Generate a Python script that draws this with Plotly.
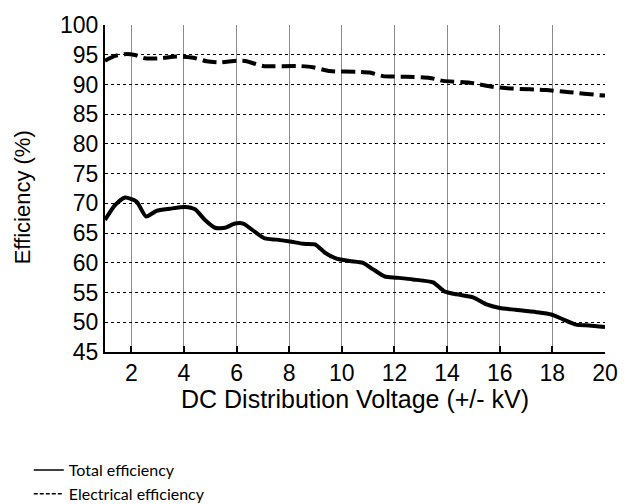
import plotly.graph_objects as go

# Data
total_x = [1.0, 1.38, 1.76, 2.2, 2.56, 2.96, 3.47, 4.04, 4.42, 4.8, 5.18, 5.56, 5.94, 6.25,
           6.7, 7.08, 7.52, 8.03, 8.53, 8.98, 9.36, 9.8, 10.3, 10.8, 11.19, 11.63, 12.08,
           12.7, 13.47, 13.9, 14.36, 14.99, 15.5, 16.0, 16.6, 17.4, 17.96, 18.4, 18.9, 19.4, 20.0]
total_y = [67.2, 69.7, 71.0, 70.3, 67.8, 68.75, 69.1, 69.4, 69.0, 67.2, 65.9, 65.9, 66.6, 66.6,
           65.2, 64.1, 63.9, 63.6, 63.2, 63.1, 61.7, 60.7, 60.3, 60.0, 58.9, 57.7, 57.5,
           57.2, 56.7, 55.2, 54.7, 54.2, 53.0, 52.4, 52.1, 51.7, 51.3, 50.5, 49.6, 49.45, 49.2]

elec_x = [1.0, 1.38, 1.76, 2.14, 2.52, 3.09, 3.72, 4.35, 4.86, 5.37, 6.0, 6.38, 7.01, 8.4,
          8.9, 9.55, 10.56, 11.06, 11.57, 12.46, 13.34, 13.85, 14.86, 15.75, 16.5, 17.77,
          18.66, 19.8, 20.0]
elec_y = [94.0, 94.8, 95.1, 94.95, 94.4, 94.4, 94.7, 94.5, 93.9, 93.7, 94.0, 93.9, 93.1, 93.1,
          92.9, 92.25, 92.15, 92.0, 91.4, 91.3, 91.1, 90.6, 90.3, 89.6, 89.3, 89.05,
          88.7, 88.2, 88.15]

x_ticks = [2, 4, 6, 8, 10, 12, 14, 16, 18, 20]
y_ticks = [45, 50, 55, 60, 65, 70, 75, 80, 85, 90, 95, 100]

series_names = ["Total efficiency", "Electrical efficiency"]
x_title = "DC Distribution Voltage (+/- kV)"
y_title = "Efficiency (%)"

fig = go.Figure()

fig.add_trace(go.Scatter(x=total_x, y=total_y, mode="lines", showlegend=False,
                         line=dict(color="black", width=4, shape="spline", smoothing=0.6)))
fig.add_trace(go.Scatter(x=elec_x, y=elec_y, mode="lines", showlegend=False,
                         line=dict(color="black", width=4, dash="14px,6px",
                                   shape="spline", smoothing=0.6)))

# legend entries (thin line samples as in the reference)
fig.add_trace(go.Scatter(x=[None], y=[None], mode="lines", name=series_names[0],
                         line=dict(color="black", width=1.5)))
fig.add_trace(go.Scatter(x=[None], y=[None], mode="lines", name=series_names[1],
                         line=dict(color="black", width=1.5, dash="4px,2px")))

fig.update_layout(
    width=630, height=504,
    margin=dict(l=97, r=33, t=17, b=160, autoexpand=False),
    paper_bgcolor="white", plot_bgcolor="white",
    font=dict(family="Liberation Sans, Arial", color="black"),
    legend=dict(xref="container", yref="container", x=0.033, y=0.117,
                xanchor="left", yanchor="top",
                font=dict(family="Lato", size=16, color="black"),
                bgcolor="rgba(0,0,0,0)", tracegroupgap=0),
    xaxis=dict(range=[1, 20], tickvals=x_ticks, ticktext=[str(v) for v in x_ticks],
               showgrid=True, gridcolor="#8c8c8c", gridwidth=1,
               showline=True, linecolor="black", linewidth=2,
               ticks="inside", ticklen=6, tickcolor="black", tickwidth=2,
               tickfont=dict(size=23), zeroline=False, ticklabelstandoff=-1,
               automargin=False),
    yaxis=dict(range=[45, 100], tickvals=y_ticks, ticktext=[str(v) for v in y_ticks],
               showgrid=True, gridcolor="black", gridwidth=1, griddash="dot",
               showline=True, linecolor="black", linewidth=2,
               ticks="", tickfont=dict(size=23), zeroline=False, ticklabelstandoff=0,
               automargin=False),
    annotations=[
        dict(text=x_title, xref="paper", yref="paper", x=0.5, y=-0.143,
             xanchor="center", yanchor="middle", showarrow=False,
             font=dict(size=25, color="black")),
        dict(text=y_title, xref="paper", yref="paper", x=-0.166, y=0.473,
             xanchor="center", yanchor="middle", showarrow=False, textangle=-90,
             font=dict(size=22, color="black")),
    ],
)

fig.write_html("out.html")
